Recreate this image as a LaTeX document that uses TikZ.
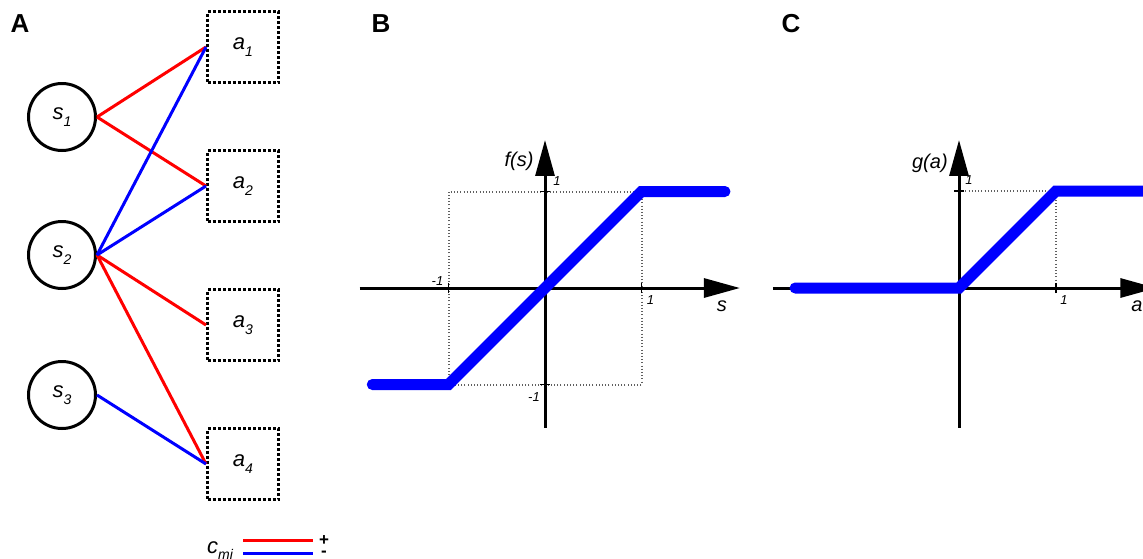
\documentclass[tikz,border=0pt]{standalone}
\usepackage{fontspec}
\setmainfont{Liberation Sans}
\usetikzlibrary{positioning,calc,arrows.meta}
\definecolor{posred}{HTML}{FF0000}
\definecolor{negblue}{HTML}{0000FF}
\definecolor{dotgray}{HTML}{606060}
\newcommand{\lbl}[2]{\textit{#1}\raisebox{-0.3em}{\fontsize{14}{14}\selectfont\textit{#2}}}

\tikzset{
  snode/.style={circle, draw, line width=3pt, minimum size=67pt, inner sep=0pt, font=\fontsize{22}{26}\selectfont},
  anode/.style={rectangle, draw, line width=3pt, dash pattern=on 3pt off 2pt, minimum size=71pt, inner sep=0pt, font=\fontsize{22}{26}\selectfont},
  posedge/.style={posred, line width=3pt},
  negedge/.style={negblue, line width=3pt},
  axis/.style={line width=3pt, -{Triangle[length=36pt, width=19pt]}},
  gridline/.style={dotgray, line width=2pt, dash pattern=on 1pt off 2.2pt},
  tickmark/.style={line width=1.5pt},
  ticklbl/.style={font=\fontsize{13}{15}\selectfont\itshape, inner sep=0pt},
  axislbl/.style={font=\fontsize{20}{24}\selectfont\itshape, inner sep=0pt},
  curve/.style={negblue, line width=11pt, line cap=round},
  panel/.style={font=\fontsize{26}{30}\selectfont\bfseries, inner sep=0pt},
  signlbl/.style={font=\fontsize{17}{20}\selectfont\bfseries, inner sep=0pt},
}

\begin{document}
\begin{tikzpicture}[x=1pt, y=-1pt]
  \useasboundingbox (0,0) rectangle (1143,558);

  % Panel labels
  \node[panel] (pA) at (20,24) {A};
  \node[panel] (pB) at (381,24) {B};
  \node[panel] (pC) at (791,24) {C};

  % A: sources and targets
  \foreach \i/\y in {1/117, 2/255, 3/395}
    \node[snode] (s\i) at (62,\y) {\lbl{s}{\i}};
  \foreach \i/\y in {1/47, 2/186, 3/325, 4/464}
    \node[anode] (a\i) at (243,\y) {\lbl{a}{\i}};

  % A: connections c_mi
  \foreach \s/\a in {1/1, 1/2, 2/3, 2/4}
    \draw[posedge] (s\s.east) -- (a\a.west);
  \foreach \s/\a in {2/1, 2/2, 3/4}
    \draw[negedge] (s\s.east) -- (a\a.west);

  % A: legend
  \node[anchor=base west, inner sep=0pt, font=\fontsize{22}{26}\selectfont] (cmi) at (207,553) {\lbl{c}{mi}};
  \coordinate (legP0) at (243,540);
  \coordinate (legP1) at (313,540);
  \coordinate (legN0) at (243,553);
  \coordinate (legN1) at (313,553);
  \draw[posedge] (legP0) -- (legP1);
  \draw[negedge] (legN0) -- (legN1);
  \node[signlbl] (plus) at (324,541) {+};
  \node[signlbl] (minus) at (324,554) {-};

  % B: f(s)
  \begin{scope}[shift={(545,288)}, x=96.5pt, y=96.5pt]
    \draw[gridline] (-1,-1) rectangle (1,1);
    \draw[axis] (-1.92,0) -- (2.02,0);
    \draw[axis] (0,-1.45) -- (0,1.534);
    \foreach \t in {-1,1} {
      \draw[tickmark] (\t,0) ++(0,-5pt) -- ++(0,10pt);
      \draw[tickmark] (0,\t) ++(-5pt,0) -- ++(10pt,0);
    }
    \node[ticklbl, xshift=-11pt, yshift=7pt] (bxm) at (-1,0) {-1};
    \node[ticklbl, xshift=9pt, yshift=-12pt] (bxp) at (1,0) {1};
    \node[ticklbl, xshift=12pt, yshift=10pt] (byp) at (0,1) {1};
    \node[ticklbl, xshift=-11pt, yshift=-13pt] (bym) at (0,-1) {-1};
    \node[axislbl] (fs) at (-0.269,1.316) {f(s)};
    \node[axislbl] (sl) at (1.834,-0.187) {s};
    \draw[curve] (-1.79,-1) -- (-1,-1) -- (1,1) -- (1.865,1);
  \end{scope}

  % C: g(a)
  \begin{scope}[shift={(959,288)}, x=97pt, y=97pt]
    \draw[gridline] (0,1) -- (1,1) -- (1,0);
    \draw[axis] (-1.918,0) -- (2.035,0);
    \draw[axis] (0,-1.443) -- (0,1.526);
    \draw[tickmark] (1,0) ++(0,-5pt) -- ++(0,10pt);
    \draw[tickmark] (0,1) ++(-5pt,0) -- ++(10pt,0);
    \node[ticklbl, xshift=8pt, yshift=-12pt] (cxp) at (1,0) {1};
    \node[ticklbl, xshift=10pt, yshift=11pt] (cyp) at (0,1) {1};
    \node[axislbl] (ga) at (-0.30,1.29) {g(a)};
    \node[axislbl] (al) at (1.835,-0.186) {a};
    \draw[curve] (-1.69,0) -- (0,0) -- (1,1) -- (2.3,1);
  \end{scope}
\end{tikzpicture}
\end{document}
